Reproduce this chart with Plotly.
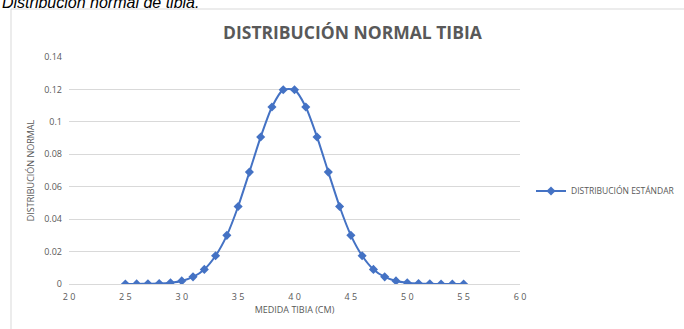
import plotly.graph_objects as go

medida_tibia = list(range(25, 56))
distribucion = [0.00002, 0.00007, 0.0002, 0.0003, 0.0008, 0.0019, 0.0044, 0.0090,
                0.0174, 0.0300, 0.0478, 0.0690, 0.0907, 0.1092, 0.1198, 0.1198,
                0.1092, 0.0907, 0.0690, 0.0478, 0.0300, 0.0174, 0.0090, 0.0044,
                0.0019, 0.0008, 0.0003, 0.0001, 0.00003, 0.00001, 0.0]
x_ticks = [20, 25, 30, 35, 40, 45, 50, 55, 60]
y_ticks = [0, 0.02, 0.04, 0.06, 0.08, 0.1, 0.12, 0.14]
y_tick_labels = ["0", "0.02", "0.04", "0.06", "0.08", "0.1", "0.12", "0.14"]
x_tick_labels = ["2 0", "2 5", "3 0", "3 5", "4 0", "4 5", "5 0", "5 5", "6 0"]

W, H = 684, 329
L, R, T, B = 69, 520, 57, 284
pw, ph = R - L, B - T

def px(x):
    return (x - L) / pw

def py(y):
    return (B - y) / ph

BLUE = "#4472C4"
GRAY = "#595959"
FONT = "Open Sans"

fig = go.Figure()
fig.add_trace(go.Scatter(
    x=medida_tibia, y=distribucion, mode="lines+markers",
    name="DISTRIBUCIÓN ESTÁNDAR",
    line=dict(color=BLUE, width=2, shape="spline", smoothing=0.6),
    marker=dict(symbol="diamond", size=7, color=BLUE),
))

fig.update_layout(
    width=W, height=H,
    margin=dict(l=L, r=W - R, t=T, b=H - B, autoexpand=False),
    paper_bgcolor="white", plot_bgcolor="white",
    font=dict(family=FONT, color=GRAY, size=9),
    showlegend=True,
    legend=dict(x=px(531), y=py(191), xanchor="left", yanchor="middle",
                font=dict(size=8.5, color=GRAY, family=FONT),
                itemwidth=30, bgcolor="rgba(0,0,0,0)"),
    xaxis=dict(range=[20, 60], tickvals=x_ticks, ticktext=x_tick_labels,
               showgrid=False, zeroline=False, showline=True,
               linecolor="#d9d9d9", linewidth=1, ticks="",
               tickfont=dict(size=9, color=GRAY), fixedrange=True,
               ticklabelstandoff=4,
               title=dict(text="MEDIDA TIBIA (CM)", font=dict(size=9, color=GRAY), standoff=4)),
    yaxis=dict(range=[0, 0.14], tickvals=y_ticks, ticktext=y_tick_labels,
               showgrid=True, gridcolor="#d9d9d9", gridwidth=1,
               zeroline=False, showline=False, ticks="",
               tickfont=dict(size=9, color=GRAY), fixedrange=True,
               ticklabelstandoff=6,
               title=dict(text="DISTRIBUCIÓN NORMAL", font=dict(size=9, color=GRAY), standoff=8)),
    shapes=[dict(type="rect", xref="paper", yref="paper",
                 x0=px(11), x1=px(700), y0=py(340), y1=py(9),
                 line=dict(color="#d9d9d9", width=1), fillcolor="rgba(0,0,0,0)",
                 layer="below")],
    annotations=[
        dict(text="<i>Distribución normal de tibia.</i>", xref="paper", yref="paper",
             x=px(0), y=py(2.5), xanchor="left", yanchor="middle", showarrow=False,
             font=dict(family="Liberation Sans", size=16, color="black")),
        dict(text="<b>DISTRIBUCIÓN NORMAL TIBIA</b>", xref="paper", yref="paper",
             x=px(353), y=py(32.5), xanchor="center", yanchor="middle", showarrow=False,
             font=dict(family=FONT, size=17.5, color=GRAY)),
    ],
)

fig.write_html("out.html")
